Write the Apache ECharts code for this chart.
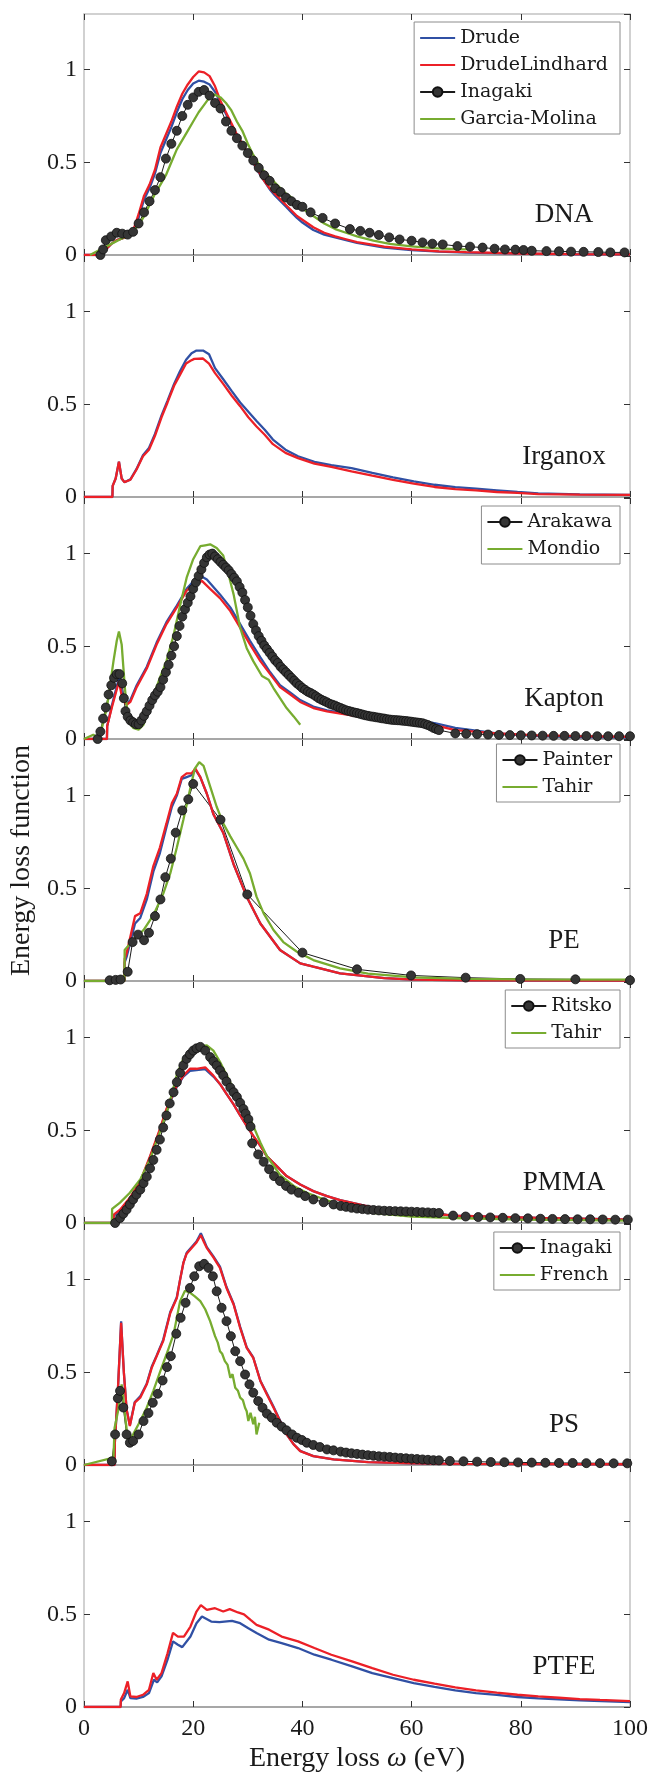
<!DOCTYPE html>
<html>
<head>
<meta charset="utf-8">
<script src="https://cdn.jsdelivr.net/npm/echarts@6/dist/echarts.min.js"></script>
<style>
html, body { margin: 0; padding: 0; background: #fff; }
#main { width: 649px; height: 1773px; }
</style>
</head>
<body>
<div id="main"></div>
<script>
// energy loss function of several polymers, [energy (eV), ELF] pairs
var energyTicks = [0, 20, 40, 60, 80, 100];
var elfTicks = [0, 0.5, 1];
var elfMax = 1.3;
var panelLabels = ['DNA', 'Irganox', 'Kapton', 'PE', 'PMMA', 'PS', 'PTFE'];

// DNA
var dnaDrude = [[0,0],[3,0],[4,0.03],[5,0.06],[6,0.08],[7,0.09],[8,0.1],[9,0.13],[10,0.2],[11,0.3],[12,0.36],[13,0.44],[14,0.55],[15,0.62],[16,0.69],[17,0.77],[18,0.84],[19,0.89],[20,0.925],[21,0.94],[22,0.935],[23,0.92],[24,0.88],[25,0.82],[26,0.76],[27,0.7],[28,0.645],[29,0.595],[30,0.545],[31,0.495],[32,0.445],[33,0.4],[34,0.355],[35,0.32],[36,0.29],[37,0.26],[38,0.23],[39,0.2],[40,0.175],[42,0.135],[44,0.11],[46,0.095],[48,0.08],[50,0.065],[55,0.04],[60,0.027],[65,0.018],[70,0.013],[80,0.007],[90,0.004],[100,0.003]];
var dnaLindhard = [[0,0],[3,0],[4,0.03],[5,0.06],[6,0.08],[7,0.09],[8,0.1],[9,0.13],[10,0.22],[11,0.32],[12,0.38],[13,0.46],[14,0.58],[15,0.65],[16,0.72],[17,0.8],[18,0.87],[19,0.92],[20,0.96],[21,0.99],[22,0.985],[23,0.965],[24,0.91],[25,0.83],[26,0.77],[27,0.71],[28,0.65],[29,0.6],[30,0.55],[31,0.5],[32,0.45],[33,0.4],[34,0.36],[35,0.33],[36,0.3],[37,0.27],[38,0.24],[39,0.21],[40,0.19],[42,0.15],[44,0.12],[46,0.1],[48,0.085],[50,0.07],[55,0.045],[60,0.03],[65,0.02],[70,0.015],[80,0.008],[90,0.005],[100,0.003]];
var dnaInagaki = [[3,0],[3.5,0.03],[4,0.08],[5,0.1],[6,0.12],[7,0.115],[8,0.11],[9,0.125],[10,0.17],[11,0.23],[12,0.29],[13,0.35],[14,0.42],[15,0.52],[16,0.6],[17,0.67],[18,0.75],[19,0.81],[20,0.85],[21,0.88],[22,0.89],[23,0.86],[24,0.82],[25,0.79],[26,0.72],[27,0.67],[28,0.63],[29,0.59],[30,0.55],[31,0.51],[32,0.47],[33,0.43],[34,0.4],[35,0.36],[36,0.34],[37,0.31],[38,0.29],[39,0.27],[40,0.26],[41.5,0.23],[43.7,0.2],[46,0.17],[48.7,0.14],[50.6,0.13],[52.3,0.12],[54,0.108],[55.9,0.095],[57.8,0.084],[60,0.077],[62,0.068],[63.8,0.061],[65.7,0.057],[68.4,0.048],[70.7,0.045],[73,0.04],[75.2,0.034],[77.1,0.03],[79,0.029],[80.5,0.027],[82,0.023],[84.7,0.021],[87,0.02],[89.2,0.018],[91.5,0.017],[94.2,0.016],[96.4,0.014],[99,0.014]];
var dnaGarcia = [[1.1,0],[3,0.03],[5,0.06],[7,0.09],[8,0.105],[9,0.13],[10,0.16],[11,0.21],[12,0.27],[13,0.33],[14,0.38],[15,0.43],[16,0.5],[17,0.57],[18,0.62],[19,0.67],[20,0.72],[21,0.77],[22,0.81],[23,0.85],[24,0.865],[25,0.85],[26,0.82],[27,0.78],[28,0.72],[29,0.67],[30,0.6],[31,0.54],[32,0.49],[33,0.45],[34,0.42],[35,0.39],[36,0.36],[37,0.33],[38,0.31],[39,0.28],[40,0.25],[42,0.21],[44,0.17],[46,0.14],[48,0.12],[50,0.1],[53,0.077],[56,0.06],[60,0.046],[64,0.037],[68,0.032],[70.5,0.03]];

// Irganox
var irgDrude = [[0,0],[5.2,0],[5.25,0.06],[5.8,0.1],[6.4,0.19],[6.9,0.1],[7.4,0.08],[8.5,0.095],[9.6,0.15],[10.8,0.225],[11.9,0.265],[13,0.34],[14.2,0.44],[15.3,0.52],[16.5,0.61],[17.6,0.68],[18.7,0.74],[19.7,0.775],[20.6,0.79],[21.8,0.79],[22.9,0.77],[24,0.695],[25.5,0.635],[27.1,0.57],[28.6,0.51],[30.1,0.46],[31.6,0.41],[33.1,0.363],[34.6,0.31],[36.9,0.255],[39.2,0.22],[42.2,0.19],[45.3,0.172],[49,0.156],[52.8,0.13],[56.6,0.106],[60.4,0.084],[64.2,0.066],[68,0.053],[71.8,0.045],[75.6,0.036],[79.4,0.027],[83.2,0.02],[90.8,0.014],[100,0.012]];
var irgLindhard = [[0,0],[5.2,0],[5.25,0.06],[5.8,0.1],[6.4,0.19],[6.9,0.1],[7.4,0.08],[8.5,0.093],[9.6,0.147],[10.8,0.22],[11.9,0.255],[13,0.33],[14.2,0.43],[15.3,0.51],[16.5,0.6],[17.6,0.66],[18.7,0.72],[19.5,0.735],[20.2,0.745],[21.8,0.747],[22.9,0.72],[24,0.668],[25.5,0.61],[27.1,0.545],[28.6,0.49],[30.1,0.43],[31.6,0.38],[33.1,0.336],[34.6,0.285],[36.9,0.238],[39.2,0.21],[42.2,0.18],[45.3,0.162],[49,0.138],[52.8,0.115],[56.6,0.093],[60.4,0.072],[64.2,0.054],[68,0.043],[71.8,0.036],[75.6,0.027],[79.4,0.022],[83.2,0.016],[90.8,0.013],[100,0.011]];

// Kapton
var kapDrude = [[0,0],[4.2,0],[4.25,0.07],[5.1,0.18],[6.4,0.33],[7,0.24],[7.8,0.19],[8.5,0.21],[9.65,0.29],[11.5,0.39],[13.3,0.52],[15.1,0.63],[17,0.72],[18.8,0.81],[20,0.85],[21.3,0.88],[22.5,0.86],[23.1,0.84],[24.9,0.78],[26.8,0.71],[28.6,0.62],[30.4,0.53],[32.3,0.44],[34.1,0.36],[35.9,0.29],[37.8,0.25],[39.6,0.21],[42,0.175],[44.5,0.155],[47,0.142],[52.8,0.118],[60.4,0.1],[64.2,0.085],[68,0.06],[75.6,0.03],[83.2,0.015],[90.8,0.01],[100,0.008]];
var kapLindhard = [[0,0],[4.2,0],[4.25,0.07],[5.1,0.17],[6.4,0.31],[7,0.22],[7.8,0.185],[8.5,0.2],[9.65,0.28],[11.5,0.38],[13.3,0.51],[15.1,0.62],[17,0.71],[18.8,0.8],[20,0.83],[21.6,0.853],[23.1,0.81],[24.9,0.76],[26.8,0.69],[28.6,0.6],[30.4,0.51],[32.3,0.42],[34.1,0.35],[35.9,0.28],[37.8,0.24],[39.6,0.2],[42,0.167],[44.5,0.149],[47,0.137],[52.8,0.11],[60.4,0.093],[64.2,0.075],[68,0.048],[75.6,0.03],[83.2,0.02],[90.8,0.016],[100,0.012]];
var kapArakawa = [[2.5,0],[3,0.04],[3.5,0.11],[4,0.17],[4.5,0.24],[5,0.29],[5.5,0.33],[6,0.35],[6.5,0.35],[7,0.3],[7.3,0.22],[7.6,0.15],[8,0.12],[8.5,0.1],[9,0.09],[9.5,0.08],[10,0.08],[10.5,0.1],[11,0.125],[11.5,0.15],[12,0.18],[12.5,0.21],[13,0.235],[13.5,0.255],[14,0.28],[14.5,0.32],[15,0.36],[15.5,0.4],[16,0.45],[16.5,0.5],[17,0.555],[17.5,0.61],[18,0.66],[18.5,0.7],[19,0.735],[19.5,0.77],[20,0.81],[20.5,0.845],[21,0.88],[21.5,0.915],[22,0.95],[22.5,0.98],[23,0.995],[23.5,1.0],[24,0.985],[24.5,0.97],[25,0.955],[25.5,0.94],[26,0.925],[26.5,0.91],[27,0.89],[27.5,0.87],[28,0.85],[28.5,0.82],[29,0.79],[29.5,0.75],[30,0.71],[30.5,0.665],[31,0.62],[31.5,0.585],[32,0.555],[32.5,0.53],[33,0.505],[33.5,0.485],[34,0.465],[34.5,0.445],[35,0.425],[35.5,0.41],[36,0.39],[36.5,0.375],[37,0.36],[37.5,0.345],[38,0.33],[38.5,0.315],[39,0.3],[39.5,0.288],[40,0.275],[40.5,0.265],[41,0.255],[41.5,0.248],[42,0.24],[42.5,0.23],[43,0.22],[43.5,0.212],[44,0.205],[44.5,0.198],[45,0.19],[45.5,0.185],[46,0.18],[46.5,0.173],[47,0.167],[47.5,0.161],[48,0.155],[48.5,0.151],[49,0.147],[49.5,0.143],[50,0.14],[50.5,0.136],[51,0.132],[51.5,0.128],[52,0.125],[52.5,0.122],[53,0.12],[53.5,0.117],[54,0.115],[54.5,0.112],[55,0.11],[55.5,0.107],[56,0.105],[56.5,0.103],[57,0.102],[57.5,0.101],[58,0.1],[58.5,0.098],[59,0.097],[59.5,0.095],[60,0.093],[60.5,0.091],[61,0.089],[61.5,0.087],[62,0.085],[62.5,0.08],[63,0.075],[63.5,0.068],[64,0.06],[64.5,0.054],[65,0.048],[68,0.03],[70,0.028],[72,0.026],[74,0.024],[76,0.022],[78,0.021],[80,0.02],[82,0.019],[84,0.018],[86,0.017],[88,0.017],[90,0.016],[92,0.016],[94,0.015],[96,0.015],[98,0.015],[100,0.015]];
var kapMondio = [[0,0],[1.7,0.023],[2.6,0.005],[3.2,0.05],[4.2,0.17],[5.4,0.42],[6,0.53],[6.4,0.58],[6.9,0.51],[7.5,0.27],[8.1,0.095],[9,0.06],[10,0.05],[10.9,0.077],[12.1,0.185],[13.9,0.33],[15.1,0.42],[16.4,0.56],[17.6,0.72],[18.8,0.87],[20,0.97],[21.3,1.04],[22.2,1.045],[23.1,1.05],[24.3,1.03],[25.5,0.99],[26.5,0.885],[27.4,0.78],[28.6,0.6],[29.8,0.49],[31,0.42],[32.6,0.34],[33.8,0.32],[34.7,0.275],[35.9,0.22],[37.1,0.167],[38.4,0.122],[39.6,0.077]];

// PE
var peDrude = [[0,0],[7.4,0],[7.45,0.1],[7.8,0.13],[9.35,0.31],[10.3,0.34],[11.5,0.44],[12.7,0.59],[13.9,0.69],[15.1,0.83],[16.1,0.94],[17,1.0],[17.9,1.09],[18.8,1.1],[19.7,1.11],[20.4,1.14],[21.3,1.1],[22.5,1.01],[23.7,0.9],[25.5,0.8],[27.4,0.63],[29.8,0.455],[32.3,0.31],[35.9,0.167],[39.6,0.095],[42,0.077],[46.9,0.041],[55,0.015],[60.4,0.007],[70,0.004],[100,0.002]];
var peLindhard = [[0,0],[7.4,0],[7.45,0.12],[7.8,0.15],[9.35,0.35],[10.3,0.365],[11.5,0.47],[12.7,0.62],[13.9,0.72],[15.1,0.85],[16.1,0.96],[17,1.01],[17.9,1.1],[18.8,1.12],[19.7,1.12],[20.4,1.146],[21.3,1.1],[22.5,1.01],[23.7,0.9],[25.5,0.8],[27.4,0.63],[29.8,0.455],[32.3,0.31],[35.9,0.167],[39.6,0.095],[42,0.077],[46.9,0.041],[55,0.015],[60.4,0.007],[70,0.004],[100,0.002]];
var pePainter = [[4.7,0.004],[5.8,0.006],[6.7,0.008],[8,0.05],[8.9,0.21],[9.9,0.25],[11,0.22],[11.9,0.26],[13,0.35],[14,0.44],[14.9,0.56],[15.9,0.66],[16.8,0.8],[18,0.92],[19.1,0.98],[20,1.063],[25,0.87],[29.9,0.467],[40,0.153],[50,0.063],[59.9,0.03],[69.9,0.018],[79.9,0.011],[90,0.009],[100,0.004]];
var peTahir = [[0,0],[7.4,0],[7.45,0.167],[9,0.22],[10.9,0.275],[12.7,0.355],[14.5,0.47],[15.8,0.58],[17,0.72],[18.2,0.87],[19.4,1.03],[20.3,1.146],[21.1,1.18],[21.9,1.16],[23.1,1.05],[24.3,0.94],[25.5,0.85],[26.8,0.78],[28,0.72],[29.2,0.66],[30.4,0.58],[31.6,0.455],[32.9,0.365],[34.7,0.275],[36.5,0.21],[39,0.158],[42,0.113],[46.9,0.068],[52,0.04],[60.4,0.02],[70,0.012],[80,0.009],[100,0.007]];

// PMMA
var pmmaDrude = [[0,0],[5.4,0],[5.45,0.04],[6.6,0.06],[8.4,0.12],[10.3,0.215],[12.1,0.355],[13.9,0.5],[15.1,0.61],[17,0.735],[18.2,0.79],[19.4,0.82],[20.6,0.825],[22.2,0.83],[23.7,0.79],[24.9,0.75],[26.1,0.696],[27.4,0.64],[28.6,0.58],[29.8,0.524],[31,0.47],[32.3,0.416],[33.5,0.36],[35.3,0.307],[37.1,0.253],[39.6,0.208],[42,0.172],[44.5,0.145],[46.9,0.123],[52.8,0.084],[60.4,0.057],[68,0.04],[83.2,0.027],[100,0.018]];
var pmmaLindhard = [[0,0],[5.4,0],[5.45,0.045],[6.6,0.072],[8.4,0.136],[10.3,0.226],[12.1,0.36],[13.9,0.506],[15.1,0.615],[17,0.74],[18.2,0.795],[19.4,0.832],[20.6,0.832],[22.2,0.84],[23.7,0.795],[24.9,0.75],[26.1,0.696],[27.4,0.64],[28.6,0.58],[29.8,0.524],[31,0.47],[32.3,0.416],[33.5,0.36],[35.3,0.307],[37.1,0.253],[39.6,0.208],[42,0.172],[44.5,0.145],[46.9,0.123],[52.8,0.084],[60.4,0.057],[68,0.04],[83.2,0.027],[100,0.018]];
var pmmaRitsko = [[5.7,0],[6.6,0.027],[7.2,0.05],[7.8,0.072],[8.4,0.1],[9,0.127],[9.6,0.153],[10.3,0.18],[10.9,0.215],[11.5,0.25],[12.1,0.295],[12.7,0.34],[13.3,0.395],[13.9,0.45],[14.5,0.515],[15.1,0.58],[15.7,0.645],[16.4,0.705],[17,0.76],[17.6,0.81],[18.2,0.85],[18.8,0.886],[19.4,0.91],[20,0.93],[20.6,0.942],[21.3,0.95],[22.2,0.93],[23.1,0.895],[23.7,0.872],[24.3,0.85],[24.9,0.823],[25.5,0.796],[26.1,0.763],[26.8,0.73],[27.4,0.705],[28,0.68],[28.6,0.648],[29.2,0.615],[29.6,0.59],[30.1,0.56],[30.5,0.52],[30.8,0.43],[31.9,0.37],[32.9,0.33],[33.9,0.29],[34.8,0.253],[35.9,0.226],[37,0.2],[38,0.18],[39.3,0.163],[40.5,0.145],[42,0.127],[43.9,0.112],[45.7,0.1],[47,0.092],[48,0.087],[49,0.082],[50,0.078],[51,0.075],[52,0.072],[53,0.07],[54,0.068],[55,0.066],[56,0.065],[57,0.064],[58,0.063],[59,0.062],[60,0.061],[61,0.06],[62,0.058],[63,0.057],[64,0.055],[65,0.054],[67.6,0.04],[69.9,0.035],[72.2,0.032],[74.4,0.03],[76.7,0.028],[79,0.026],[81.3,0.025],[83.6,0.023],[85.8,0.022],[88.1,0.021],[90.4,0.02],[92.7,0.02],[95,0.019],[97.3,0.018],[99.6,0.018]];
var pmmaTahir = [[0,0],[5.1,0],[5.15,0.076],[6.6,0.11],[8.4,0.163],[10.3,0.235],[12.1,0.344],[13.9,0.49],[15.5,0.63],[17,0.8],[18.2,0.886],[19.4,0.93],[21,0.953],[22.5,0.958],[23.7,0.93],[24.9,0.87],[26.1,0.8],[27.4,0.72],[28.6,0.67],[29.8,0.606],[31,0.524],[32.3,0.434],[33.5,0.36],[34.7,0.31],[35.9,0.26],[38.4,0.2],[40.8,0.163],[43.2,0.136],[46.9,0.098],[52.8,0.055],[60,0.035],[68,0.027],[80,0.018],[100,0.013]];

// PS
var psDrude = [[0,0],[5.6,0],[5.65,0.12],[6.2,0.4],[6.8,0.775],[7.3,0.5],[7.8,0.3],[8.4,0.215],[9.3,0.34],[10.3,0.37],[11.5,0.44],[12.4,0.53],[13.3,0.59],[14.5,0.675],[15.8,0.825],[16.4,0.865],[17,0.905],[17.6,1.0],[18.2,1.09],[18.8,1.145],[20,1.185],[20.6,1.205],[21.4,1.25],[22,1.21],[22.5,1.175],[23.7,1.125],[24.9,1.07],[26.1,0.96],[27.4,0.87],[28.6,0.745],[29.8,0.635],[31,0.58],[32.3,0.455],[33.5,0.385],[34.7,0.315],[35.9,0.24],[37.1,0.167],[38.4,0.112],[39.6,0.076],[42,0.048],[45.7,0.03],[52,0.015],[60.4,0.009],[70,0.006],[100,0.004]];
var psLindhard = [[0,0],[5.6,0],[5.65,0.12],[6.2,0.4],[6.8,0.767],[7.3,0.5],[7.8,0.3],[8.4,0.21],[9.3,0.336],[10.3,0.363],[11.5,0.435],[12.4,0.524],[13.3,0.587],[14.5,0.668],[15.8,0.82],[16.4,0.86],[17,0.9],[17.6,1.0],[18.2,1.09],[18.8,1.14],[20,1.18],[20.6,1.2],[21.4,1.24],[22,1.2],[22.5,1.17],[23.7,1.12],[24.9,1.063],[26.1,0.955],[27.4,0.866],[28.6,0.74],[29.8,0.632],[31,0.578],[32.3,0.453],[33.5,0.38],[34.7,0.31],[35.9,0.237],[37.1,0.165],[38.4,0.111],[39.6,0.075],[42,0.048],[45.7,0.03],[52,0.015],[60.4,0.009],[70,0.006],[100,0.004]];
var psInagaki = [[5.1,0.02],[5.7,0.165],[6.2,0.36],[6.6,0.4],[7.2,0.31],[7.8,0.165],[8.4,0.12],[9,0.13],[10,0.165],[10.9,0.237],[11.8,0.28],[12.6,0.336],[13.5,0.384],[14.4,0.456],[15.2,0.528],[15.9,0.587],[16.9,0.708],[17.7,0.794],[18.6,0.875],[19.4,0.955],[20.2,1.018],[21.1,1.072],[22,1.085],[22.8,1.063],[23.6,1.018],[24.3,0.937],[25.2,0.848],[26.1,0.776],[26.9,0.695],[27.7,0.614],[28.6,0.56],[29.5,0.488],[30.3,0.435],[31,0.39],[31.9,0.345],[32.7,0.309],[33.5,0.277],[34.4,0.255],[35.3,0.228],[36.2,0.207],[37.1,0.187],[38.1,0.165],[39,0.147],[39.9,0.135],[40.8,0.12],[42,0.108],[43.2,0.097],[44.5,0.084],[45.7,0.079],[47,0.072],[48,0.067],[49,0.063],[50,0.06],[51,0.056],[52,0.053],[53,0.05],[54,0.047],[55,0.045],[56,0.043],[57,0.04],[58,0.038],[59,0.036],[60,0.034],[61,0.032],[62,0.03],[63,0.028],[64,0.026],[65,0.025],[67,0.022],[69.5,0.02],[72,0.018],[74.5,0.016],[77,0.015],[79.5,0.014],[82,0.013],[84.5,0.012],[87,0.011],[89.5,0.011],[92,0.01],[94.5,0.01],[97,0.009],[99.5,0.009]];
var psFrench = [[0,0],[5.4,0.04],[5.6,0.2],[6.3,0.3],[6.9,0.435],[7.4,0.3],[8.1,0.12],[9,0.165],[10.3,0.237],[11.5,0.31],[12.7,0.4],[13.9,0.5],[15.1,0.596],[16.4,0.704],[17.6,0.884],[18.5,0.94],[19.4,0.93],[20.3,0.91],[21.3,0.884],[22.2,0.84],[23.1,0.776],[24,0.695],[24.5,0.66],[24.9,0.614],[25.3,0.6],[25.8,0.56],[26.3,0.54],[26.8,0.47],[27.2,0.49],[27.7,0.417],[28.2,0.4],[28.6,0.363],[29.1,0.35],[29.5,0.309],[29.8,0.29],[30.1,0.237],[30.5,0.282],[31,0.22],[31.3,0.26],[31.6,0.165],[32.1,0.228]];

// PTFE
var ptfeDrude = [[0,0],[6.7,0],[6.75,0.03],[7.35,0.048],[8,0.093],[8.5,0.048],[9.6,0.045],[10.8,0.054],[11.9,0.075],[12.8,0.147],[13.4,0.133],[14.2,0.165],[15.3,0.255],[16.3,0.354],[17.2,0.336],[18,0.323],[19.5,0.38],[20.6,0.452],[21.6,0.488],[23.3,0.461],[24.8,0.458],[27.1,0.465],[28.6,0.452],[30.1,0.425],[31.6,0.399],[33.9,0.363],[36.2,0.345],[39.2,0.318],[42.2,0.282],[45.3,0.255],[49.1,0.219],[52.8,0.183],[56.6,0.156],[60.4,0.129],[64.2,0.108],[68,0.09],[71.8,0.075],[75.6,0.065],[79.4,0.054],[83.2,0.047],[90.8,0.036],[100,0.027]];
var ptfeLindhard = [[0,0],[6.7,0],[6.75,0.04],[7.35,0.075],[8,0.138],[8.5,0.057],[9.6,0.054],[10.8,0.066],[11.9,0.093],[12.7,0.183],[13.3,0.147],[14.2,0.183],[15.3,0.29],[16.3,0.4],[17.2,0.38],[18.3,0.38],[19.5,0.434],[20.6,0.515],[21.4,0.55],[22.5,0.524],[24,0.533],[25.5,0.515],[26.7,0.528],[28.2,0.51],[29.3,0.5],[30.5,0.47],[31.6,0.443],[33.9,0.417],[36.2,0.38],[39.2,0.354],[42.2,0.318],[45.3,0.282],[49.1,0.246],[52.8,0.21],[56.6,0.174],[60.4,0.147],[64.2,0.126],[68,0.106],[71.8,0.09],[75.6,0.077],[79.4,0.066],[83.2,0.057],[87,0.05],[90.8,0.043],[94.5,0.038],[100,0.032]];

var BLUE = '#3050a4', RED = '#ec2027', GREEN = '#77ac30';
var FONT = 'Liberation Serif, DejaVu Serif, serif';
var LEGEND_FONT = 'DejaVu Serif, Liberation Serif, serif';

// each panel: model curves + measured/other data sets
var panels = [
    {drude: dnaDrude, lindhard: dnaLindhard, dots: ['Inagaki', dnaInagaki], other: ['Garcia-Molina', dnaGarcia],
        legend: ['Drude', 'DrudeLindhard', 'Inagaki', 'Garcia-Molina'], legendTop: 8, legendPad: 12},
    {drude: irgDrude, lindhard: irgLindhard},
    {drude: kapDrude, lindhard: kapLindhard, dots: ['Arakawa', kapArakawa], other: ['Mondio', kapMondio],
        legend: ['Arakawa', 'Mondio'], legendTop: 8, legendPad: 8},
    {drude: peDrude, lindhard: peLindhard, dots: ['Painter', pePainter], other: ['Tahir', peTahir],
        legend: ['Painter', 'Tahir'], legendTop: 4, legendPad: 8},
    {drude: pmmaDrude, lindhard: pmmaLindhard, dots: ['Ritsko', pmmaRitsko], other: ['Tahir', pmmaTahir],
        legend: ['Ritsko', 'Tahir'], legendTop: 8, legendPad: 8},
    {drude: psDrude, lindhard: psLindhard, dots: ['Inagaki', psInagaki], other: ['French', psFrench],
        legend: ['Inagaki', 'French'], legendTop: 8, legendPad: 8},
    {drude: ptfeDrude, lindhard: ptfeLindhard}
];
var dotNames = ['Inagaki', 'Arakawa', 'Painter', 'Ritsko'];

var left = 84, width = 546, top0 = 14, step = 242, height = 241;
var nPanels = panels.length;

var grids = [], xAxes = [], yAxes = [], series = [], legends = [], texts = [];

panels.forEach(function (p, i) {
    var top = top0 + step * i;
    var last = i === nPanels - 1;
    grids.push({left: left, top: top, width: width, height: height, outerBoundsMode: 'none'});

    var tick = {show: true, inside: true, length: 6, lineStyle: {color: '#333', width: 1}};
    // bottom axis
    xAxes.push({
        gridIndex: i, type: 'value', position: 'bottom',
        min: energyTicks[0], max: energyTicks[energyTicks.length - 1], interval: energyTicks[1] - energyTicks[0],
        axisLine: {show: true, onZero: false, lineStyle: {color: '#8a8a8a', width: 1.5}},
        axisTick: tick,
        axisLabel: {show: last, margin: 10, fontFamily: FONT, fontSize: 24, color: '#1a1a1a'},
        splitLine: {show: false},
        name: last ? 'Energy loss {i|ω} (eV)' : '',
        nameLocation: 'middle', nameGap: 38,
        nameTextStyle: {fontFamily: FONT, fontSize: 28, color: '#1a1a1a',
            rich: {i: {fontFamily: FONT, fontSize: 28, fontStyle: 'italic', color: '#1a1a1a'}}}
    });
    // top axis (ticks only)
    xAxes.push({
        gridIndex: i, type: 'value', position: 'top',
        min: energyTicks[0], max: energyTicks[energyTicks.length - 1], interval: energyTicks[1] - energyTicks[0],
        axisLine: {show: i === 0, onZero: false, lineStyle: {color: '#c2c2c2', width: 1.5}},
        axisTick: tick, axisLabel: {show: false}, splitLine: {show: false}
    });
    yAxes.push({
        gridIndex: i, type: 'value', position: 'left',
        min: elfTicks[0], max: elfMax, interval: elfTicks[1] - elfTicks[0],
        axisLine: {show: true, onZero: false, lineStyle: {color: '#c2c2c2', width: 1.5}},
        axisTick: tick,
        axisLabel: {showMaxLabel: false, margin: 7, fontFamily: FONT, fontSize: 24, color: '#1a1a1a'},
        splitLine: {show: false},
        name: i === 3 ? 'Energy loss function' : '',
        nameLocation: 'middle', nameGap: 46, nameRotate: 90,
        nameTextStyle: {fontFamily: FONT, fontSize: 28, color: '#1a1a1a'}
    });
    yAxes.push({
        gridIndex: i, type: 'value', position: 'right',
        min: elfTicks[0], max: elfMax, interval: elfTicks[1] - elfTicks[0],
        axisLine: {show: true, onZero: false, lineStyle: {color: '#c2c2c2', width: 1.5}},
        axisTick: tick, axisLabel: {show: false}, splitLine: {show: false}
    });

    var ax = 2 * i;
    if (p.dots) {
        series.push({
            name: p.dots[0], type: 'line', xAxisIndex: ax, yAxisIndex: ax, data: p.dots[1],
            symbol: 'circle', symbolSize: 9, showAllSymbol: true,
            lineStyle: {color: '#1a1a1a', width: 1},
            itemStyle: {color: '#353535', borderColor: '#111', borderWidth: 0.8}
        });
    }
    series.push({name: 'Drude', type: 'line', xAxisIndex: ax, yAxisIndex: ax, data: p.drude,
        symbol: 'none', lineStyle: {color: BLUE, width: 2.3}, itemStyle: {color: BLUE}});
    series.push({name: 'DrudeLindhard', type: 'line', xAxisIndex: ax, yAxisIndex: ax, data: p.lindhard,
        symbol: 'none', lineStyle: {color: RED, width: 2.3}, itemStyle: {color: RED}});
    if (p.other) {
        series.push({name: p.other[0], type: 'line', xAxisIndex: ax, yAxisIndex: ax, data: p.other[1],
            symbol: 'none', lineStyle: {color: GREEN, width: 2.3}, itemStyle: {color: GREEN}});
    }

    if (p.legend) {
        legends.push({
            data: p.legend.map(function (n) {
                // plain line samples carry no marker
                return dotNames.indexOf(n) >= 0 ? {name: n} : {name: n, itemStyle: {opacity: 0}};
            }),
            orient: 'vertical', right: 29, top: top + p.legendTop,
            itemWidth: 35, itemHeight: 12, itemGap: 7,
            padding: [6, p.legendPad, 5, 5],
            borderColor: '#8c8c8c', borderWidth: 1, backgroundColor: '#fff',
            textStyle: {fontFamily: LEGEND_FONT, fontSize: 19, lineHeight: 20, color: '#1a1a1a'},
            selectedMode: false
        });
    }

    texts.push({
        type: 'text', x: 564, y: top + height - 40, z: 100,
        style: {text: panelLabels[i], font: '27px ' + FONT, fill: '#1a1a1a', align: 'center', verticalAlign: 'middle'}
    });
});

var chart = echarts.init(document.getElementById('main'));
chart.setOption({
    animation: false,
    backgroundColor: '#fff',
    grid: grids,
    xAxis: xAxes,
    yAxis: yAxes,
    legend: legends,
    series: series,
    graphic: texts
});
</script>
</body>
</html>
